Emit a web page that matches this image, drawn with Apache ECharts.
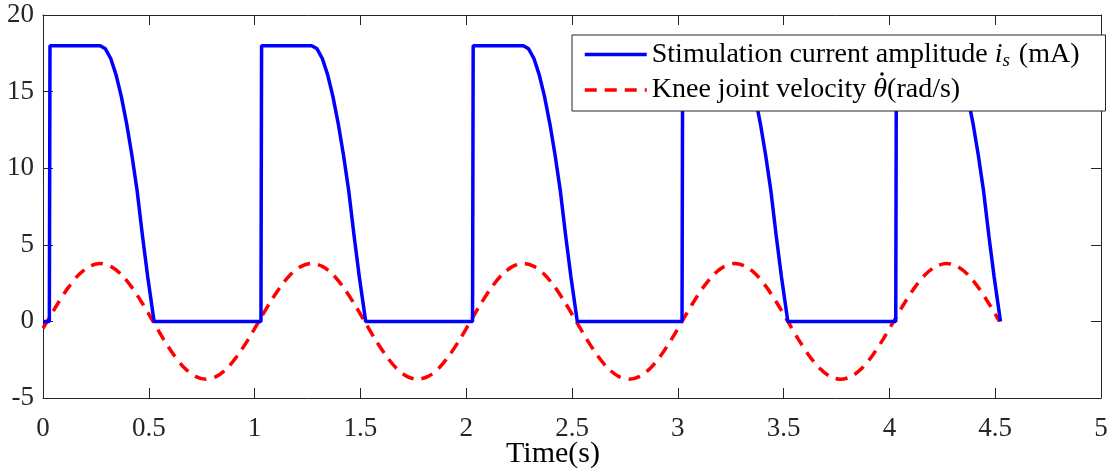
<!DOCTYPE html>
<html>
<head>
<meta charset="utf-8">
<script src="https://cdn.jsdelivr.net/npm/echarts@6/dist/echarts.min.js"></script>
<style>html,body{margin:0;padding:0;background:#fff}#c{width:1118px;height:470px}</style>
</head>
<body>
<div id="c"></div>
<script>
// Time axis ticks
const xTicks = [0, 0.5, 1, 1.5, 2, 2.5, 3, 3.5, 4, 4.5, 5];
const yTicks = [-5, 0, 5, 10, 15, 20];

// Stimulation current amplitude i_s (mA)
const currentTime = [
  0, 0.03, 0.033, 0.27, 0.295, 0.32, 0.345, 0.37, 0.395, 0.42, 0.445, 0.47, 0.495, 0.525,
  1.03, 1.033, 1.27, 1.295, 1.32, 1.345, 1.37, 1.395, 1.42, 1.445, 1.47, 1.495, 1.525,
  2.03, 2.033, 2.27, 2.295, 2.32, 2.345, 2.37, 2.395, 2.42, 2.445, 2.47, 2.495, 2.525,
  3.02, 3.023, 3.265, 3.29, 3.315, 3.34, 3.365, 3.39, 3.415, 3.44, 3.465, 3.49, 3.52,
  4.03, 4.033, 4.27, 4.295, 4.32, 4.345, 4.37, 4.395, 4.42, 4.445, 4.47, 4.495, 4.525
];
const currentValue = [
  0, 0, 18, 18, 17.79, 17.16, 16.11, 14.69, 12.93, 10.86, 8.51, 5.6, 2.9, 0,
  0, 18, 18, 17.79, 17.16, 16.11, 14.69, 12.93, 10.86, 8.51, 5.6, 2.9, 0,
  0, 18, 18, 17.79, 17.16, 16.11, 14.69, 12.93, 10.86, 8.51, 5.6, 2.9, 0,
  0, 18, 18, 17.79, 17.16, 16.11, 14.69, 12.93, 10.86, 8.51, 5.6, 2.9, 0,
  0, 18, 18, 17.79, 17.16, 16.11, 14.69, 12.93, 10.86, 8.51, 5.6, 2.9, 0
];

// Knee joint velocity (rad/s)
const velocityTime = [
  0,
  0.02, 0.07, 0.12, 0.17, 0.22, 0.27, 0.32, 0.37, 0.42, 0.47, 0.52, 0.57, 0.62, 0.67, 0.72, 0.77, 0.82, 0.87, 0.92, 0.97,
  1.02, 1.07, 1.12, 1.17, 1.22, 1.27, 1.32, 1.37, 1.42, 1.47, 1.52, 1.57, 1.62, 1.67, 1.72, 1.77, 1.82, 1.87, 1.92, 1.97,
  2.02, 2.07, 2.12, 2.17, 2.22, 2.27, 2.32, 2.37, 2.42, 2.47, 2.52, 2.57, 2.62, 2.67, 2.72, 2.77, 2.82, 2.87, 2.92, 2.97,
  3.02, 3.07, 3.12, 3.17, 3.22, 3.27, 3.32, 3.37, 3.42, 3.47, 3.52, 3.57, 3.62, 3.67, 3.72, 3.77, 3.82, 3.87, 3.92, 3.97,
  4.02, 4.07, 4.12, 4.17, 4.22, 4.27, 4.32, 4.37, 4.42, 4.47, 4.52
];
const velocityValue = [
  -0.45,
  0, 1.17, 2.22, 3.06, 3.59, 3.78, 3.59, 3.06, 2.22, 1.17, 0, -1.17, -2.22, -3.06, -3.59, -3.78, -3.59, -3.06, -2.22, -1.17,
  0, 1.17, 2.22, 3.06, 3.59, 3.78, 3.59, 3.06, 2.22, 1.17, 0, -1.17, -2.22, -3.06, -3.59, -3.78, -3.59, -3.06, -2.22, -1.17,
  0, 1.17, 2.22, 3.06, 3.59, 3.78, 3.59, 3.06, 2.22, 1.17, 0, -1.17, -2.22, -3.06, -3.59, -3.78, -3.59, -3.06, -2.22, -1.17,
  0, 1.17, 2.22, 3.06, 3.59, 3.78, 3.59, 3.06, 2.22, 1.17, 0, -1.17, -2.22, -3.06, -3.59, -3.78, -3.59, -3.06, -2.22, -1.17,
  0, 1.17, 2.22, 3.06, 3.59, 3.78, 3.59, 3.06, 2.22, 1.17, 0
];

const serif = 'Liberation Serif';
const axisColor = '#262626';
const pair = (ts, vs) => ts.map((t, i) => [t, vs[i]]);

const baseX = {
  type: 'value', min: xTicks[0], max: xTicks[xTicks.length - 1], interval: 0.5,
  axisLine: { show: true, onZero: false, lineStyle: { color: axisColor, width: 1 } },
  axisTick: { show: true, inside: true, length: 10, lineStyle: { color: axisColor } },
  splitLine: { show: false }
};
const baseY = {
  type: 'value', min: yTicks[0], max: yTicks[yTicks.length - 1], interval: 5,
  axisLine: { show: true, onZero: false, lineStyle: { color: axisColor, width: 1 } },
  axisTick: { show: true, inside: true, length: 10, lineStyle: { color: axisColor } },
  splitLine: { show: false }
};

const chart = echarts.init(document.getElementById('c'));
chart.setOption({
  backgroundColor: '#fff',
  animation: false,
  grid: { left: 43, right: 17, top: 15, bottom: 72, containLabel: false, outerBoundsMode: 'none' },
  xAxis: [
    Object.assign({}, baseX, {
      position: 'bottom',
      axisLabel: { show: true, margin: 17, fontFamily: serif, fontSize: 27, color: axisColor },
      name: 'Time(s)', nameLocation: 'middle', nameGap: 41, nameMoveOverlap: false,
      nameTextStyle: { fontFamily: serif, fontSize: 30, color: '#000', padding: [0, 38, 0, 0] }
    }),
    Object.assign({}, baseX, { position: 'top', axisLabel: { show: false } })
  ],
  yAxis: [
    Object.assign({}, baseY, {
      position: 'left',
      axisLabel: { show: true, margin: 9, fontFamily: serif, fontSize: 27, color: axisColor }
    }),
    Object.assign({}, baseY, { position: 'right', axisLabel: { show: false } })
  ],
  legend: {
    show: true, orient: 'vertical', left: 572, top: 35,
    backgroundColor: '#fff', borderColor: axisColor, borderWidth: 1, borderRadius: 0,
    padding: [4, 26, 6, 11], itemGap: 5, itemWidth: 62, itemHeight: 10,
    itemStyle: { opacity: 0, borderWidth: 0 },
    lineStyle: { width: 3.5 },
    data: ['current', 'velocity'],
    formatter: function (name) {
      if (name === 'current') return '{n|Stimulation current amplitude }{i|i}{sub|s}{n| (mA)}';
      return '{n|Knee joint velocity }{i|θ}{n|(rad/s)}';
    },
    textStyle: {
      fontFamily: serif, fontSize: 28, color: '#000', lineHeight: 30,
      rich: {
        n: { fontFamily: serif, fontSize: 28, color: '#000', lineHeight: 30 },
        i: { fontFamily: serif, fontSize: 28, fontStyle: 'italic', color: '#000', lineHeight: 30 },
        sub: { fontFamily: serif, fontSize: 19, fontStyle: 'italic', color: '#000', lineHeight: 30, padding: [12, 2, 0, 0] }
      }
    }
  },
  graphic: [
    { type: 'circle', z: 100, shape: { cx: 882, cy: 74, r: 1.8 }, style: { fill: '#000' } }
  ],
  series: [
    {
      name: 'current', type: 'line', xAxisIndex: 0, yAxisIndex: 0,
      data: pair(currentTime, currentValue),
      showSymbol: false, symbol: 'none', smooth: false,
      lineStyle: { color: '#0000ff', width: 3.5 }, itemStyle: { color: '#0000ff' },
      z: 3
    },
    {
      name: 'velocity', type: 'line', xAxisIndex: 0, yAxisIndex: 0,
      data: pair(velocityTime, velocityValue),
      showSymbol: false, symbol: 'none', smooth: 0.3,
      lineStyle: { color: '#ff0000', width: 3.5, type: [12, 8] }, itemStyle: { color: '#ff0000' },
      z: 2
    }
  ]
});
</script>
</body>
</html>
